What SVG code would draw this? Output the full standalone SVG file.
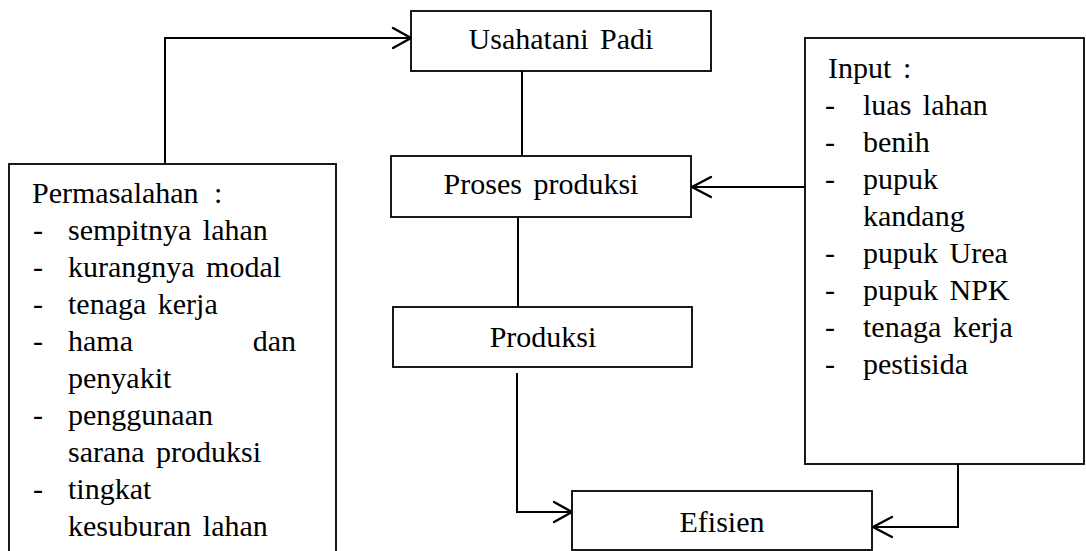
<svg xmlns="http://www.w3.org/2000/svg" width="1086" height="551" viewBox="0 0 1086 551" font-family="Liberation Serif, Times New Roman, serif">
  <style>
    .box { fill: #ffffff; stroke: #000000; stroke-width: 1.8; }
    .conn { fill: none; stroke: #000000; stroke-width: 2; }
    .head { fill: none; stroke: #000000; stroke-width: 2.4; stroke-linecap: round; stroke-linejoin: miter; }
    text { font-family: 'Liberation Serif', 'Times New Roman', serif; font-size: 30px; fill: #000000; word-spacing: 4px; }
    .mid { text-anchor: middle; }
  </style>
  <rect width="1086" height="551" fill="#ffffff"/>

  <g id="connectors">
    <path class="conn" d="M165,164 V38 H410"/>
    <path class="head" d="M393,28 L411,38 L393,48"/>
    <path class="conn" d="M522,71 V156"/>
    <path class="conn" d="M518,217 V307"/>
    <path class="conn" d="M517,373 V512 H571"/>
    <path class="head" d="M554,502 L572,512 L554,522"/>
    <path class="conn" d="M805,187 H693"/>
    <path class="head" d="M711,177 L692,187 L711,197"/>
    <path class="conn" d="M958,464 V527 H874"/>
    <path class="head" d="M892,517 L873,527 L892,537"/>
  </g>

  <g id="node-usahatani">
    <rect class="box" x="411" y="11" width="300" height="60"/>
    <text class="mid" x="561" y="49" font-family="Liberation Serif">Usahatani Padi</text>
  </g>

  <g id="node-proses">
    <rect class="box" x="391" y="156" width="300" height="61"/>
    <text class="mid" x="541" y="194" font-family="Liberation Serif">Proses produksi</text>
  </g>

  <g id="node-produksi">
    <rect class="box" x="393" y="307" width="299" height="60"/>
    <text class="mid" x="543" y="347" font-family="Liberation Serif">Produksi</text>
  </g>

  <g id="node-efisien">
    <rect class="box" x="572" y="491" width="300" height="59"/>
    <text class="mid" x="722" y="532" font-family="Liberation Serif">Efisien</text>
  </g>

  <g id="node-input" font-family="Liberation Serif">
    <rect class="box" x="805" y="38" width="279" height="426"/>
    <text x="828" y="78">Input<tspan x="903">:</tspan></text>
    <text x="825" y="115">-</text><text x="863" y="115">luas lahan</text>
    <text x="825" y="152">-</text><text x="863" y="152">benih</text>
    <text x="825" y="189">-</text><text x="863" y="189">pupuk</text>
    <text x="863" y="226">kandang</text>
    <text x="825" y="263">-</text><text x="863" y="263">pupuk Urea</text>
    <text x="825" y="300">-</text><text x="863" y="300">pupuk NPK</text>
    <text x="825" y="337">-</text><text x="863" y="337">tenaga kerja</text>
    <text x="825" y="374">-</text><text x="863" y="374">pestisida</text>
  </g>

  <g id="node-permasalahan" font-family="Liberation Serif">
    <rect class="box" x="9" y="164" width="327" height="400"/>
    <text x="32" y="203">Permasalahan<tspan x="214">:</tspan></text>
    <text x="33" y="240">-</text><text x="68" y="240">sempitnya lahan</text>
    <text x="33" y="277">-</text><text x="68" y="277">kurangnya modal</text>
    <text x="33" y="314">-</text><text x="68" y="314">tenaga kerja</text>
    <text x="33" y="351">-</text><text x="68" y="351">hama<tspan x="296" text-anchor="end">dan</tspan></text>
    <text x="68" y="388">penyakit</text>
    <text x="33" y="425">-</text><text x="68" y="425">penggunaan</text>
    <text x="68" y="462">sarana produksi</text>
    <text x="33" y="499">-</text><text x="68" y="499">tingkat</text>
    <text x="68" y="536">kesuburan lahan</text>
  </g>
</svg>
